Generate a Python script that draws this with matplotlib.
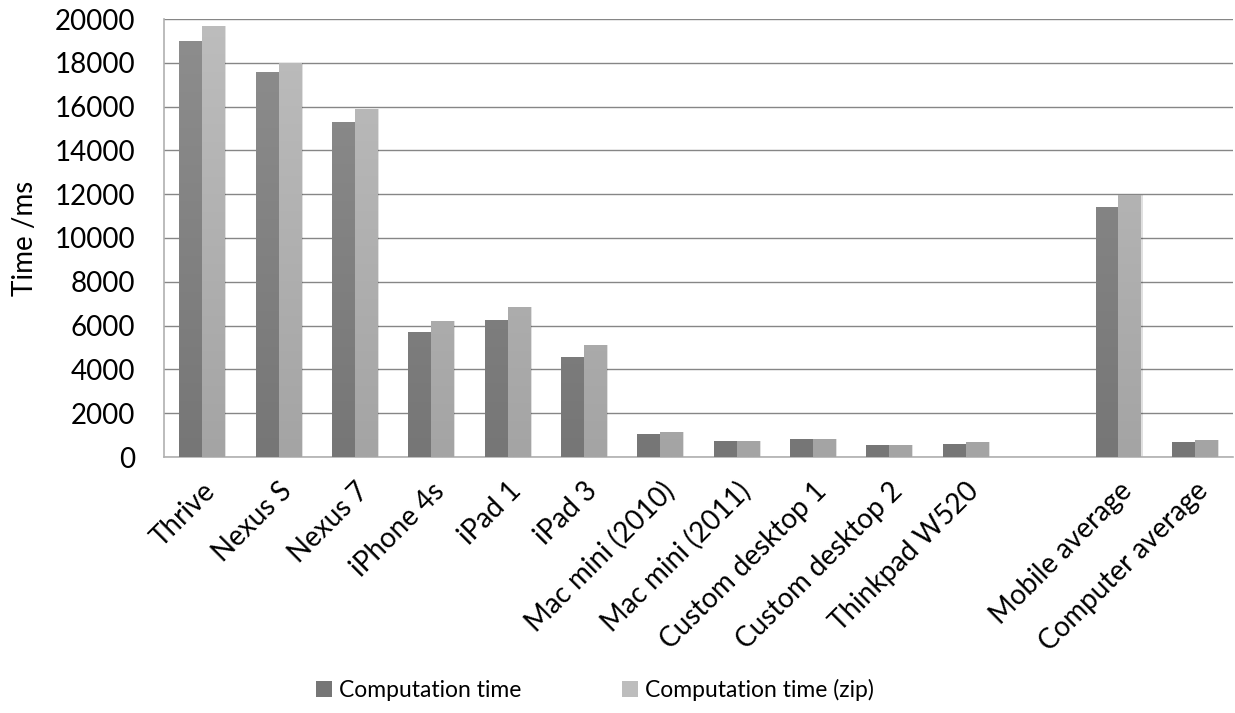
import numpy as np
import matplotlib
matplotlib.use("Agg")
import matplotlib.pyplot as plt
from matplotlib.patches import Rectangle
from matplotlib.legend_handler import HandlerPatch

plt.rcParams['font.family'] = ['Lato', 'DejaVu Sans']

categories = ["Thrive", "Nexus S", "Nexus 7", "iPhone 4s", "iPad 1", "iPad 3",
              "Mac mini (2010)", "Mac mini (2011)", "Custom desktop 1",
              "Custom desktop 2", "Thinkpad W520", "", "Mobile average",
              "Computer average"]
comp_time = [19000, 17600, 15300, 5700, 6250, 4570,
             1060, 730, 800, 560, 610, np.nan, 11400, 700]
comp_time_zip = [19700, 18000, 15900, 6200, 6850, 5110,
                 1140, 740, 840, 570, 690, np.nan, 11960, 780]
series_names = ["Computation time", "Computation time (zip)"]

# bottom / top shade of each series' vertical gradient
shades = [("#767676", "#8e8e8e"), ("#a4a4a4", "#bdbdbd")]

fig = plt.figure(figsize=(12.35, 7.13), dpi=100)
ax = fig.add_axes([164 / 1235, 1 - 457 / 713, (1233 - 164) / 1235, (457 - 19) / 713])

x = np.arange(len(categories))
w = 0.3


def grad_bars(xs, vals, cols):
    bars = ax.bar(xs, vals, width=w, color=cols[1], zorder=3, linewidth=0)
    grad = np.linspace(0, 1, 256).reshape(-1, 1)
    c0 = np.array(matplotlib.colors.to_rgb(cols[0]))
    c1 = np.array(matplotlib.colors.to_rgb(cols[1]))
    for b in bars:
        h = b.get_height()
        if not np.isfinite(h) or h <= 0:
            continue
        x0 = b.get_x()
        # soft shadow on the right
        ax.add_patch(Rectangle((x0 + 0.015, 0), w, h, color="#000000",
                               alpha=0.12, zorder=2, linewidth=0))
        img = c0[None, None, :] + (c1 - c0)[None, None, :] * grad[:, :, None]
        im = ax.imshow(img, extent=(x0, x0 + w, 0, 20000), origin="lower",
                       aspect="auto", zorder=4, interpolation="bilinear")
        im.set_clip_path(b)
    return bars


grad_bars(x - w / 2, comp_time, shades[0])
grad_bars(x + w / 2, comp_time_zip, shades[1])

ax.set_xlim(-0.5, len(categories) - 0.5)
ax.set_ylim(0, 20000)
ax.set_yticks(np.arange(0, 20001, 2000))
ax.yaxis.grid(True, color="#868686", linewidth=1.0, zorder=0)
ax.set_axisbelow(True)
for s in ["top", "right"]:
    ax.spines[s].set_visible(False)
ax.spines["left"].set_color("#b0b0b0")
ax.spines["bottom"].set_color("#b0b0b0")
ax.spines["left"].set_linewidth(1.2)
ax.spines["bottom"].set_linewidth(1.2)
ax.tick_params(axis="y", length=0, labelsize=20, pad=21)
ax.tick_params(axis="x", length=0, labelsize=20, pad=15)
ax.set_xticks(x)
ax.set_xticklabels(categories, rotation=45, ha="right", rotation_mode="anchor")
ax.set_ylabel("Time /ms", fontsize=20, labelpad=12)


class GradHandler(HandlerPatch):
    def __init__(self, cols):
        super().__init__()
        self.cols = cols

    def create_artists(self, legend, orig_handle, xdescent, ydescent, width,
                       height, fontsize, trans):
        s = height * 1.0
        r = Rectangle((-xdescent + width - s, -ydescent), s, s,
                      facecolor=self.cols[0], edgecolor="none", transform=trans)
        return [r]


h1 = Rectangle((0, 0), 1, 1, color=shades[0][0])
h2 = Rectangle((0, 0), 1, 1, color=shades[1][1])
fig.legend([h1, h2], series_names, loc="center", bbox_to_anchor=(0.479, 1 - 690 / 713),
           ncol=2, frameon=False, fontsize=16.5, handlelength=1.0,
           handletextpad=0.3, columnspacing=4.1,
           handler_map={h1: GradHandler((shades[0][0],)),
                        h2: GradHandler((shades[1][1],))})

fig.savefig("out.png", dpi=100)
